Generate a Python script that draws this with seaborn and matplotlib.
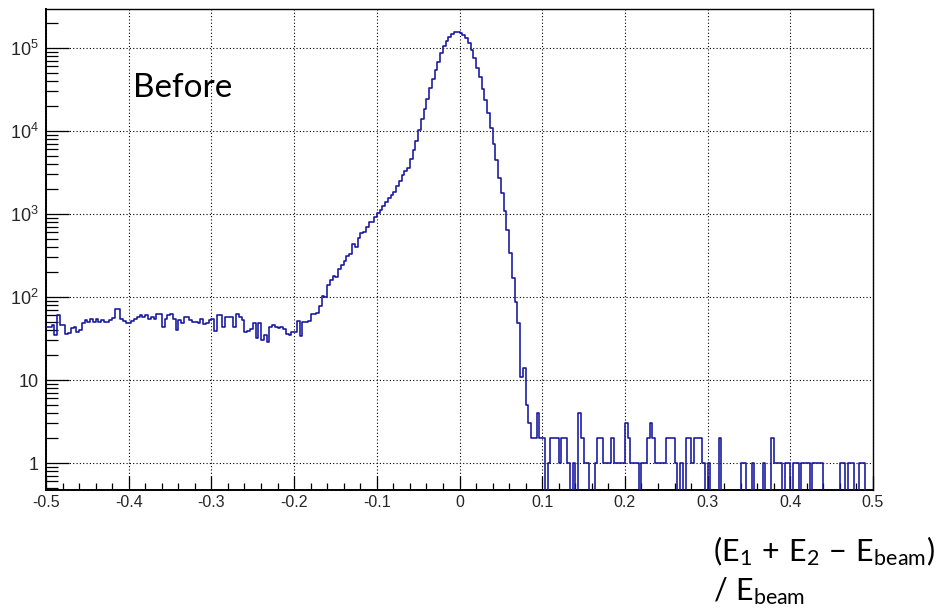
import numpy as np
import pandas as pd
import matplotlib
matplotlib.use("Agg")
import matplotlib.pyplot as plt
import seaborn as sns
from matplotlib.ticker import FixedLocator, FixedFormatter, LogLocator, MultipleLocator, NullFormatter

# ---------------- data (300 bins on [-0.5, 0.5]) ----------------
x_min, x_max, n_bins = -0.5, 0.5, 300

flat_counts = [44, 44, 46, 35, 60, 46, 46, 36, 37, 42,
               44, 38, 40, 48, 53, 50, 55, 50, 55, 50,
               53, 50, 50, 53, 56, 72, 72, 55, 51, 48,
               48, 51, 55, 58, 60, 58, 61, 55, 58, 55,
               62, 62, 44, 55, 60, 63, 54, 40, 53, 48,
               57, 58, 53, 50, 50, 49, 55, 47, 48, 53,
               54, 39, 61, 61, 44, 58, 57, 57, 44, 63,
               58, 53, 38, 39, 41, 48, 32, 48, 30, 35,
               29, 44, 46, 44, 42, 44, 41, 36, 35, 38]

rise_counts = [38, 52, 34, 50, 50, 52, 62, 63, 64, 78,
               104, 100, 140, 160, 180, 172, 215, 240, 272, 312,
               327, 431, 403, 509, 590, 600, 691, 794, 805, 929,
               1019, 1117, 1248, 1408, 1545, 1694, 1857, 2174, 2500, 2951,
               3300, 3600, 4560, 5900, 7640, 10290, 13960, 18400, 24300, 32700,
               42300, 54300, 68400, 86300, 105700, 122400, 136800, 147500, 154600, 155500]

fall_counts = [152000, 144600, 131000, 115900, 94600, 75100, 57900, 44400, 31800, 23600,
               16300, 10800, 6970, 4480, 2690, 1810, 1087, 641, 336, 168,
               88, 48, 11, 14, 5, 3, 2, 2, 4, 2]

tail_counts = [2, 0, 1, 2, 2, 2, 1, 2, 2, 1,
               0, 1, 0, 4, 2, 1, 1, 0, 0, 1,
               2, 2, 1, 1, 1, 2, 1, 1, 1, 1,
               3, 2, 1, 1, 1, 0, 1, 1, 2, 3,
               2, 1, 1, 1, 1, 2, 2, 2, 1, 0,
               1, 0, 2, 2, 1, 2, 2, 2, 1, 0,
               1, 0, 0, 0, 2, 0, 0, 0, 0, 0,
               0, 0, 1, 1, 0, 0, 1, 0, 0, 0,
               1, 0, 0, 2, 1, 1, 1, 0, 1, 1,
               0, 1, 1, 0, 1, 1, 1, 0, 1, 1,
               1, 1, 0, 0, 0, 0, 0, 0, 1, 1,
               0, 1, 1, 0, 0, 1, 1, 0, 0, 0]

x_tick_values = [-0.5, -0.4, -0.3, -0.2, -0.1, 0.0, 0.1, 0.2, 0.3, 0.4, 0.5]
x_tick_labels = ["-0.5", "-0.4", "-0.3", "-0.2", "-0.1", "0", "0.1", "0.2", "0.3", "0.4", "0.5"]
y_tick_values = [1, 10, 100, 1000, 10000, 100000]
y_tick_labels = ["1", "10", r"$10^{2}$", r"$10^{3}$", r"$10^{4}$", r"$10^{5}$"]

annotation_text = "Before"
xlabel_line1 = r"$\mathsf{(E_1\,+\,E_2\,-\,E_{beam})}$"
xlabel_line2 = r"$\mathsf{/\ E_{beam}}$"

counts = np.array(flat_counts + rise_counts + fall_counts + tail_counts, dtype=float)
edges = np.linspace(x_min, x_max, n_bins + 1)
centers = 0.5 * (edges[:-1] + edges[1:])
df = pd.DataFrame({"x": centers, "w": counts})

# ---------------- style ----------------
sns.set_theme(style="white")
plt.rcParams["font.family"] = ["Liberation Sans", "DejaVu Sans"]
plt.rcParams["mathtext.fontset"] = "custom"
plt.rcParams["mathtext.rm"] = "Liberation Sans"
plt.rcParams["mathtext.it"] = "Liberation Sans:italic"
plt.rcParams["mathtext.sf"] = "Lato"
plt.rcParams["xtick.labelsize"] = 11.5
plt.rcParams["ytick.labelsize"] = 13

W, H = 944, 611
fig = plt.figure(figsize=(W / 100, H / 100), dpi=100)
fig.patch.set_facecolor("white")
ax = fig.add_axes([46 / W, (H - 490) / H, 827 / W, 481 / H])
ax.set_facecolor("white")

sns.histplot(data=df, x="x", weights="w", bins=n_bins, binrange=(x_min, x_max),
             element="step", fill=False,
             color="#14149e", linewidth=1.15, ax=ax, zorder=3)

ax.set_yscale("log")
ax.set_xlim(x_min, x_max)
ax.set_ylim(0.473, 2.95e5)

# grid
ax.grid(True, which="major", color="black", linestyle=(0, (1, 2)), linewidth=0.8, zorder=1)

# ticks
ax.xaxis.set_major_locator(FixedLocator(x_tick_values))
ax.xaxis.set_major_formatter(FixedFormatter(x_tick_labels))
ax.xaxis.set_minor_locator(MultipleLocator(0.02))
ax.yaxis.set_major_locator(FixedLocator(y_tick_values))
ax.yaxis.set_major_formatter(FixedFormatter(y_tick_labels))
ax.yaxis.set_minor_locator(LogLocator(base=10, subs=np.arange(2, 10)))
ax.yaxis.set_minor_formatter(NullFormatter())

ax.tick_params(axis="x", which="major", direction="in", length=10, width=0.9,
               labelsize=11.5, pad=3.5, bottom=True, top=False, color="black")
ax.tick_params(axis="x", which="minor", direction="in", length=5, width=0.9,
               bottom=True, top=False, color="black")
ax.tick_params(axis="y", which="major", direction="in", length=16.5, width=0.9,
               labelsize=13, pad=5.5, left=True, right=False, color="black")
ax.tick_params(axis="y", which="minor", direction="in", length=8.5, width=0.9,
               left=True, right=False, color="black")
plt.setp(ax.get_xticklabels(), fontsize=11.5)
plt.setp(ax.get_yticklabels(), fontsize=13)

for s in ax.spines.values():
    s.set_color("black")
    s.set_linewidth(1.0)
ax.spines["left"].set_linewidth(1.4)
ax.spines["bottom"].set_linewidth(1.4)

ax.set_xlabel("")
ax.set_ylabel("")

# "Before" annotation
fig.text(133 / W, 1 - 97 / H, annotation_text, fontsize=24, family="Lato",
         color="black", ha="left", va="baseline")

# x-axis title (two lines below the right part of the axis)
fig.text(713 / W, 1 - 561 / H, xlabel_line1, fontsize=22, color="black",
         ha="left", va="baseline")
fig.text(713 / W, 1 - 600 / H, xlabel_line2, fontsize=22, color="black",
         ha="left", va="baseline")

fig.savefig("out.png", dpi=100, facecolor="white")
